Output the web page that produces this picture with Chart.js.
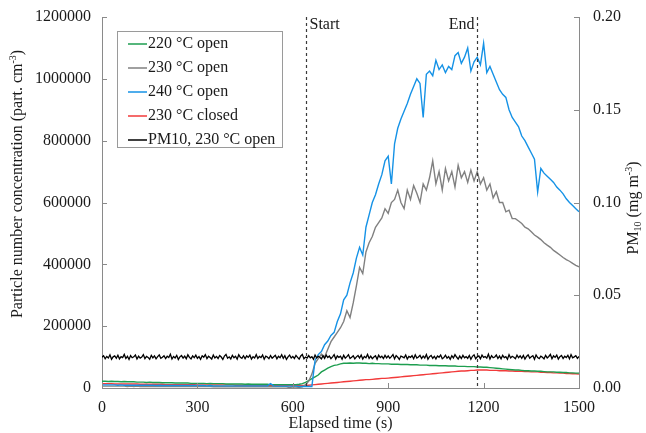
<!DOCTYPE html>
<html>
<head>
<meta charset="utf-8">
<script src="https://cdn.jsdelivr.net/npm/chart.js@4.4.0/dist/chart.umd.min.js"></script>
<style>
  html, body { margin: 0; padding: 0; background: #fff; }
  canvas { display: block; }
</style>
</head>
<body>
<canvas id="chart" width="646" height="433"></canvas>
<script>
// Elapsed time (s) for the particle number series
const times = [
    0, 10, 20, 30, 40, 50, 60, 70, 80, 90,
    100, 110, 120, 130, 140, 150, 160, 170, 180, 190,
    200, 210, 220, 230, 240, 250, 260, 270, 280, 290,
    300, 310, 320, 330, 340, 350, 360, 370, 380, 390,
    400, 410, 420, 430, 440, 450, 460, 470, 480, 490,
    500, 510, 520, 530, 540, 550, 560, 570, 580, 590,
    600, 610, 620, 630, 640, 650, 660, 670, 680, 690,
    700, 710, 720, 730, 740, 750, 760, 770, 780, 790,
    800, 810, 820, 830, 840, 850, 860, 870, 880, 890,
    900, 910, 920, 930, 940, 950, 960, 970, 980, 990,
    1000, 1010, 1020, 1030, 1040, 1050, 1060, 1070, 1080, 1090,
    1100, 1110, 1120, 1130, 1140, 1150, 1160, 1170, 1180, 1190,
    1200, 1210, 1220, 1230, 1240, 1250, 1260, 1270, 1280, 1290,
    1300, 1310, 1320, 1330, 1340, 1350, 1360, 1370, 1380, 1390,
    1400, 1410, 1420, 1430, 1440, 1450, 1460, 1470, 1480, 1490,
    1500
];

// Particle number concentration, in thousands of part. cm-3
const open220 = [
    22, 22, 21, 22, 21, 21, 20, 21, 20, 20,
    20, 19, 19, 19, 18, 19, 18, 18, 18, 17,
    17, 17, 17, 16, 16, 16, 16, 16, 15, 15,
    15, 15, 15, 14, 15, 14, 14, 14, 14, 13,
    13, 13, 13, 13, 13, 12, 13, 12, 12, 12,
    12, 12, 12, 11, 11, 11, 11, 11, 11, 11,
    11, 11, 12, 14, 18, 24, 30, 36, 42, 52,
    58, 64, 69, 73, 75, 78, 80, 80, 81, 80,
    81, 81, 80, 80, 79, 80, 79, 79, 78, 78,
    78, 77, 77, 77, 76, 76, 76, 75, 75, 75,
    74, 74, 74, 73, 73, 73, 72, 72, 72, 71,
    71, 71, 70, 70, 70, 69, 69, 69, 68, 68,
    67, 67, 66, 65, 64, 63, 62, 61, 60, 59,
    58, 58, 57, 56, 56, 55, 55, 54, 54, 53,
    52, 52, 52, 51, 51, 50, 50, 49, 49, 48,
    48
];

const open230 = [
    6, 6, 6, 6, 6, 6, 6, 6, 5, 6,
    5, 6, 5, 5, 5, 5, 5, 5, 5, 5,
    5, 5, 5, 5, 5, 5, 5, 5, 5, 5,
    5, 5, 5, 5, 5, 4, 5, 4, 4, 4,
    4, 4, 4, 4, 4, 4, 4, 4, 4, 4,
    4, 4, 4, 4, 4, 4, 4, 4, 4, 1,
    4, 3, 2, 4, 10, 22, 45, 80, 95, 110,
    100, 125, 150, 165, 180, 195, 215, 250, 228, 275,
    330, 390, 370, 440, 470, 490, 520, 535, 550, 580,
    565, 600, 610, 640, 600, 580, 640, 610, 655, 630,
    600, 660, 640, 680, 735, 660, 700, 640, 710, 670,
    700, 650, 720, 680, 700, 665, 705, 670, 700, 660,
    680, 640, 660, 615, 635, 600, 600, 570, 575, 548,
    548, 540, 532, 520, 515, 505, 495, 488, 480, 470,
    462, 455, 445, 438, 430, 422, 415, 410, 403, 397,
    392
];

const open240 = [
    10, 10, 10, 10, 10, 9, 10, 9, 9, 9,
    9, 9, 9, 9, 9, 9, 9, 8, 9, 8,
    8, 8, 8, 8, 8, 8, 8, 8, 8, 8,
    8, 8, 8, 7, 8, 7, 7, 7, 7, 7,
    7, 7, 7, 7, 7, 7, 7, 7, 7, 7,
    7, 7, 7, 14, 7, 6, 6, 6, 6, 6,
    6, 6, 5, 5, 5, 5, 5, 90, 108, 118,
    140, 152, 170, 180, 215, 240, 285, 300, 340, 372,
    420, 455, 430, 520, 560, 600, 625, 660, 690, 735,
    750, 660, 790, 840, 870, 895, 920, 950, 975, 1000,
    985, 875, 1015, 1025, 1010, 1060, 1030, 1045, 1020, 1040,
    1030, 1075, 1085, 1050, 1070, 1100, 1025, 1055, 1070, 1045,
    1115, 1020, 1040, 1015, 990, 965, 950, 940, 900, 875,
    860, 845, 815, 800, 780, 760, 740, 634, 710, 695,
    685, 675, 665, 650, 640, 628, 612, 600, 590, 580,
    570
];

const closed230 = [
    14, 14, 14, 14, 13, 13, 13, 13, 13, 13,
    13, 13, 12, 12, 12, 12, 12, 12, 12, 12,
    11, 11, 11, 11, 11, 11, 11, 11, 11, 11,
    10, 10, 10, 10, 10, 10, 10, 10, 10, 10,
    10, 10, 9, 9, 9, 9, 9, 9, 9, 9,
    9, 9, 9, 9, 8, 8, 8, 8, 8, 8,
    8, 8, 8, 8, 8, 9, 10, 11, 12, 13,
    14, 15, 16, 17, 18, 19, 20, 21, 22, 23,
    24, 25, 26, 27, 27, 28, 29, 30, 31, 31,
    32, 33, 34, 35, 36, 37, 38, 39, 40, 41,
    42, 43, 44, 45, 46, 47, 48, 49, 50, 51,
    52, 53, 54, 55, 55, 56, 57, 57, 58, 58,
    58, 58, 57, 57, 57, 56, 56, 56, 55, 55,
    54, 54, 54, 53, 53, 52, 52, 52, 51, 51,
    50, 50, 49, 49, 48, 48, 47, 47, 46, 46,
    45
];

// PM10 is logged more often (every 5 s)
const pmTimes = [
    0, 5, 10, 15, 20, 25, 30, 35, 40, 45, 50, 55, 60, 65, 70, 75, 80, 85, 90, 95,
    100, 105, 110, 115, 120, 125, 130, 135, 140, 145, 150, 155, 160, 165, 170, 175, 180, 185, 190, 195,
    200, 205, 210, 215, 220, 225, 230, 235, 240, 245, 250, 255, 260, 265, 270, 275, 280, 285, 290, 295,
    300, 305, 310, 315, 320, 325, 330, 335, 340, 345, 350, 355, 360, 365, 370, 375, 380, 385, 390, 395,
    400, 405, 410, 415, 420, 425, 430, 435, 440, 445, 450, 455, 460, 465, 470, 475, 480, 485, 490, 495,
    500, 505, 510, 515, 520, 525, 530, 535, 540, 545, 550, 555, 560, 565, 570, 575, 580, 585, 590, 595,
    600, 605, 610, 615, 620, 625, 630, 635, 640, 645, 650, 655, 660, 665, 670, 675, 680, 685, 690, 695,
    700, 705, 710, 715, 720, 725, 730, 735, 740, 745, 750, 755, 760, 765, 770, 775, 780, 785, 790, 795,
    800, 805, 810, 815, 820, 825, 830, 835, 840, 845, 850, 855, 860, 865, 870, 875, 880, 885, 890, 895,
    900, 905, 910, 915, 920, 925, 930, 935, 940, 945, 950, 955, 960, 965, 970, 975, 980, 985, 990, 995,
    1000, 1005, 1010, 1015, 1020, 1025, 1030, 1035, 1040, 1045, 1050, 1055, 1060, 1065, 1070, 1075, 1080, 1085, 1090, 1095,
    1100, 1105, 1110, 1115, 1120, 1125, 1130, 1135, 1140, 1145, 1150, 1155, 1160, 1165, 1170, 1175, 1180, 1185, 1190, 1195,
    1200, 1205, 1210, 1215, 1220, 1225, 1230, 1235, 1240, 1245, 1250, 1255, 1260, 1265, 1270, 1275, 1280, 1285, 1290, 1295,
    1300, 1305, 1310, 1315, 1320, 1325, 1330, 1335, 1340, 1345, 1350, 1355, 1360, 1365, 1370, 1375, 1380, 1385, 1390, 1395,
    1400, 1405, 1410, 1415, 1420, 1425, 1430, 1435, 1440, 1445, 1450, 1455, 1460, 1465, 1470, 1475, 1480, 1485, 1490, 1495,
    1500
];

// PM10 mass concentration, mg m-3 (right axis)
const pm10open230 = [
    0.0166, 0.0174, 0.0158, 0.0170, 0.0162, 0.0179, 0.0155, 0.0168, 0.0173, 0.0160,
    0.0177, 0.0157, 0.0169, 0.0164, 0.0181, 0.0159, 0.0171, 0.0154, 0.0175, 0.0163,
    0.0168, 0.0178, 0.0156, 0.0172, 0.0161, 0.0167, 0.0180, 0.0158, 0.0170, 0.0165,
    0.0155, 0.0176, 0.0162, 0.0173, 0.0157, 0.0169, 0.0178, 0.0160, 0.0166, 0.0174,
    0.0159, 0.0171, 0.0164, 0.0182, 0.0156, 0.0170, 0.0162, 0.0176, 0.0154, 0.0168,
    0.0175, 0.0161, 0.0172, 0.0158, 0.0179, 0.0165, 0.0157, 0.0173, 0.0163, 0.0177,
    0.0160, 0.0169, 0.0155, 0.0174, 0.0166, 0.0180, 0.0158, 0.0171, 0.0164, 0.0156,
    0.0178, 0.0162, 0.0170, 0.0159, 0.0175, 0.0167, 0.0154, 0.0172, 0.0181, 0.0161,
    0.0168, 0.0157, 0.0176, 0.0163, 0.0171, 0.0155, 0.0179, 0.0166, 0.0160, 0.0174,
    0.0158, 0.0173, 0.0165, 0.0177, 0.0156, 0.0169, 0.0162, 0.0180, 0.0159, 0.0170,
    0.0164, 0.0178, 0.0155, 0.0172, 0.0167, 0.0158, 0.0175, 0.0161, 0.0169, 0.0176,
    0.0157, 0.0171, 0.0163, 0.0179, 0.0160, 0.0174, 0.0154, 0.0168, 0.0177, 0.0162,
    0.0170, 0.0159, 0.0176, 0.0165, 0.0156, 0.0173, 0.0181, 0.0158, 0.0167, 0.0161,
    0.0175, 0.0163, 0.0169, 0.0155, 0.0178, 0.0162, 0.0171, 0.0166, 0.0157, 0.0174,
    0.0160, 0.0177, 0.0164, 0.0172, 0.0158, 0.0168, 0.0180, 0.0156, 0.0173, 0.0165,
    0.0171, 0.0155, 0.0176, 0.0161, 0.0169, 0.0179, 0.0159, 0.0166, 0.0174, 0.0157,
    0.0168, 0.0175, 0.0162, 0.0178, 0.0156, 0.0170, 0.0163, 0.0181, 0.0160, 0.0172,
    0.0158, 0.0167, 0.0174, 0.0155, 0.0177, 0.0164, 0.0171, 0.0159, 0.0176, 0.0162,
    0.0173, 0.0160, 0.0169, 0.0180, 0.0157, 0.0175, 0.0166, 0.0154, 0.0172, 0.0168,
    0.0163, 0.0178, 0.0156, 0.0170, 0.0165, 0.0174, 0.0158, 0.0179, 0.0161, 0.0167,
    0.0176, 0.0159, 0.0172, 0.0162, 0.0181, 0.0155, 0.0169, 0.0175, 0.0160, 0.0171,
    0.0157, 0.0173, 0.0166, 0.0178, 0.0158, 0.0164, 0.0177, 0.0161, 0.0170, 0.0155,
    0.0174, 0.0162, 0.0180, 0.0167, 0.0156, 0.0172, 0.0159, 0.0176, 0.0163, 0.0169,
    0.0160, 0.0175, 0.0155, 0.0171, 0.0179, 0.0158, 0.0168, 0.0173, 0.0157, 0.0177,
    0.0165, 0.0170, 0.0161, 0.0182, 0.0156, 0.0174, 0.0163, 0.0167, 0.0178, 0.0159,
    0.0172, 0.0157, 0.0176, 0.0164, 0.0169, 0.0155, 0.0180, 0.0162, 0.0171, 0.0166,
    0.0158, 0.0177, 0.0163, 0.0173, 0.0160, 0.0175, 0.0156, 0.0170, 0.0179, 0.0161,
    0.0168, 0.0174, 0.0155, 0.0178, 0.0164, 0.0159, 0.0172, 0.0166, 0.0157, 0.0176,
    0.0162, 0.0170, 0.0181, 0.0158, 0.0173, 0.0165, 0.0177, 0.0156, 0.0169, 0.0175,
    0.0159, 0.0171, 0.0164, 0.0176, 0.0157, 0.0180, 0.0163, 0.0168, 0.0174, 0.0160,
    0.0170
];

// Start / end of the printing phase
const markTimes = [640, 1180];
const markLabels = ['Start', 'End'];

const seriesLabels = ['220 °C open', '230 °C open', '240 °C open', '230 °C closed', 'PM10, 230 °C open'];
const seriesColors = ['#1e9e50', '#808080', '#1592e6', '#f23a3a', '#000000'];

const FONT = '"Liberation Serif", "Times New Roman", serif';
const AXIS_COLOR = '#8a8a8a';
const TEXT_COLOR = '#1a1a1a';

function toPoints(xs, values, factor) {
    return xs.map((t, i) => ({ x: t, y: values[i] * factor }));
}

// draws a string made of pieces (for sub/superscripts), centred on cx, cy
function drawParts(ctx, parts, cx, cy, angle) {
    ctx.save();
    ctx.translate(cx, cy);
    ctx.rotate(angle);
    ctx.textBaseline = 'middle';
    ctx.textAlign = 'left';
    ctx.fillStyle = TEXT_COLOR;
    let total = 0;
    parts.forEach(p => {
        ctx.font = p.size + 'px ' + FONT;
        total += ctx.measureText(p.text).width;
    });
    let x = -total / 2;
    parts.forEach(p => {
        ctx.font = p.size + 'px ' + FONT;
        ctx.fillText(p.text, x, p.dy || 0);
        x += ctx.measureText(p.text).width;
    });
    ctx.restore();
}

// vertical axes: no extra room above/below for the end labels
function fixVertical(width) {
    return function (scale) {
        scale.width = width;
        scale.paddingTop = 0;
        scale.paddingBottom = 0;
    };
}

const extrasPlugin = {
    id: 'extras',
    afterDraw(chart) {
        const ctx = chart.ctx;
        const area = chart.chartArea;
        const xs = chart.scales.x, ys = chart.scales.y, y2 = chart.scales.y2;

        // inward tick marks
        ctx.save();
        ctx.strokeStyle = AXIS_COLOR;
        ctx.lineWidth = 1;
        ctx.beginPath();
        ys.ticks.forEach(t => {
            const py = Math.round(ys.getPixelForValue(t.value)) + 0.5;
            ctx.moveTo(area.left, py); ctx.lineTo(area.left + 5, py);
        });
        y2.ticks.forEach(t => {
            const py = Math.round(y2.getPixelForValue(t.value)) + 0.5;
            ctx.moveTo(area.right, py); ctx.lineTo(area.right - 5, py);
        });
        xs.ticks.forEach(t => {
            const px = Math.round(xs.getPixelForValue(t.value)) + 0.5;
            ctx.moveTo(px, area.bottom); ctx.lineTo(px, area.bottom - 5);
        });
        ctx.stroke();
        ctx.restore();

        // start / end dashed lines
        ctx.save();
        ctx.strokeStyle = '#3a3a3a';
        ctx.lineWidth = 1.2;
        ctx.setLineDash([3, 3]);
        ctx.font = '16px ' + FONT;
        ctx.fillStyle = TEXT_COLOR;
        ctx.textBaseline = 'middle';
        markTimes.forEach((t, i) => {
            const px = Math.round(xs.getPixelForValue(t)) + 0.5;
            ctx.beginPath();
            ctx.moveTo(px, area.top);
            ctx.lineTo(px, area.bottom);
            ctx.stroke();
            if (i === 0) {
                ctx.textAlign = 'left';
                ctx.fillText(markLabels[i], px + 3, area.top + 8);
            } else {
                ctx.textAlign = 'right';
                ctx.fillText(markLabels[i], px - 3, area.top + 8);
            }
        });
        ctx.restore();

        // legend box
        ctx.save();
        const lx = 117, ly = 31, lw = 165, lh = 116;
        ctx.fillStyle = '#fff';
        ctx.fillRect(lx, ly, lw, lh);
        ctx.strokeStyle = '#9a9a9a';
        ctx.lineWidth = 1;
        ctx.strokeRect(lx + 0.5, ly + 0.5, lw, lh);
        ctx.font = '16px ' + FONT;
        ctx.textBaseline = 'middle';
        ctx.textAlign = 'left';
        seriesLabels.forEach((label, i) => {
            const rowY = ly + 13 + i * 24;
            ctx.strokeStyle = seriesColors[i];
            ctx.lineWidth = 1.5;
            ctx.beginPath();
            ctx.moveTo(lx + 11, rowY);
            ctx.lineTo(lx + 30, rowY);
            ctx.stroke();
            ctx.fillStyle = TEXT_COLOR;
            ctx.fillText(label, lx + 31, rowY);
        });
        ctx.restore();

        // axis titles (rotated, reading upwards)
        drawParts(ctx, [
            { text: 'Particle number concentration (part. cm', size: 16 },
            { text: '-3', size: 10, dy: -5 },
            { text: ')', size: 16 }
        ], 18, 184, -Math.PI / 2);
        drawParts(ctx, [
            { text: 'PM', size: 16 },
            { text: '10', size: 10, dy: 4 },
            { text: ' (mg m', size: 16 },
            { text: '-3', size: 10, dy: -5 },
            { text: ')', size: 16 }
        ], 634, 208, -Math.PI / 2);
    }
};

const ctx = document.getElementById('chart').getContext('2d');
const chart = new Chart(ctx, {
    type: 'line',
    data: {
        datasets: [
            { label: seriesLabels[0], data: toPoints(times, open220, 1000), borderColor: seriesColors[0], yAxisID: 'y', order: 3 },
            { label: seriesLabels[1], data: toPoints(times, open230, 1000), borderColor: seriesColors[1], yAxisID: 'y', order: 2 },
            { label: seriesLabels[2], data: toPoints(times, open240, 1000), borderColor: seriesColors[2], yAxisID: 'y', order: 1 },
            { label: seriesLabels[3], data: toPoints(times, closed230, 1000), borderColor: seriesColors[3], yAxisID: 'y', order: 4 },
            { label: seriesLabels[4], data: toPoints(pmTimes, pm10open230, 1), borderColor: seriesColors[4], borderWidth: 1.3, yAxisID: 'y2', order: 0 }
        ]
    },
    options: {
        responsive: false,
        animation: false,
        layout: { padding: { top: 17, left: 0, right: 0, bottom: 0 } },
        elements: {
            point: { radius: 0 },
            line: { borderWidth: 1.4, tension: 0 }
        },
        plugins: {
            legend: { display: false },
            tooltip: { enabled: false }
        },
        scales: {
            x: {
                type: 'linear',
                min: 0,
                max: 1500,
                grid: { drawOnChartArea: false, drawTicks: false },
                border: { color: AXIS_COLOR },
                ticks: {
                    stepSize: 300, padding: 10, color: TEXT_COLOR, font: { family: FONT, size: 16 },
                    callback: v => String(v)
                },
                title: { display: true, text: 'Elapsed time (s)', color: TEXT_COLOR, padding: 0, font: { family: FONT, size: 16 } },
                afterFit(scale) { scale.height = 45; }
            },
            y: {
                position: 'left',
                min: 0,
                max: 1200000,
                grid: { drawOnChartArea: false, drawTicks: false },
                border: { color: AXIS_COLOR },
                ticks: {
                    stepSize: 200000, padding: 11, color: TEXT_COLOR, font: { family: FONT, size: 16 },
                    callback: v => String(v)
                },
                afterFit: fixVertical(102)
            },
            y2: {
                position: 'right',
                min: 0,
                max: 0.2,
                grid: { drawOnChartArea: false, drawTicks: false },
                border: { color: AXIS_COLOR },
                ticks: {
                    stepSize: 0.05, padding: 14, color: TEXT_COLOR, font: { family: FONT, size: 16 },
                    callback: v => v.toFixed(2)
                },
                afterFit: fixVertical(67)
            }
        }
    },
    plugins: [extrasPlugin]
});
</script>
</body>
</html>
